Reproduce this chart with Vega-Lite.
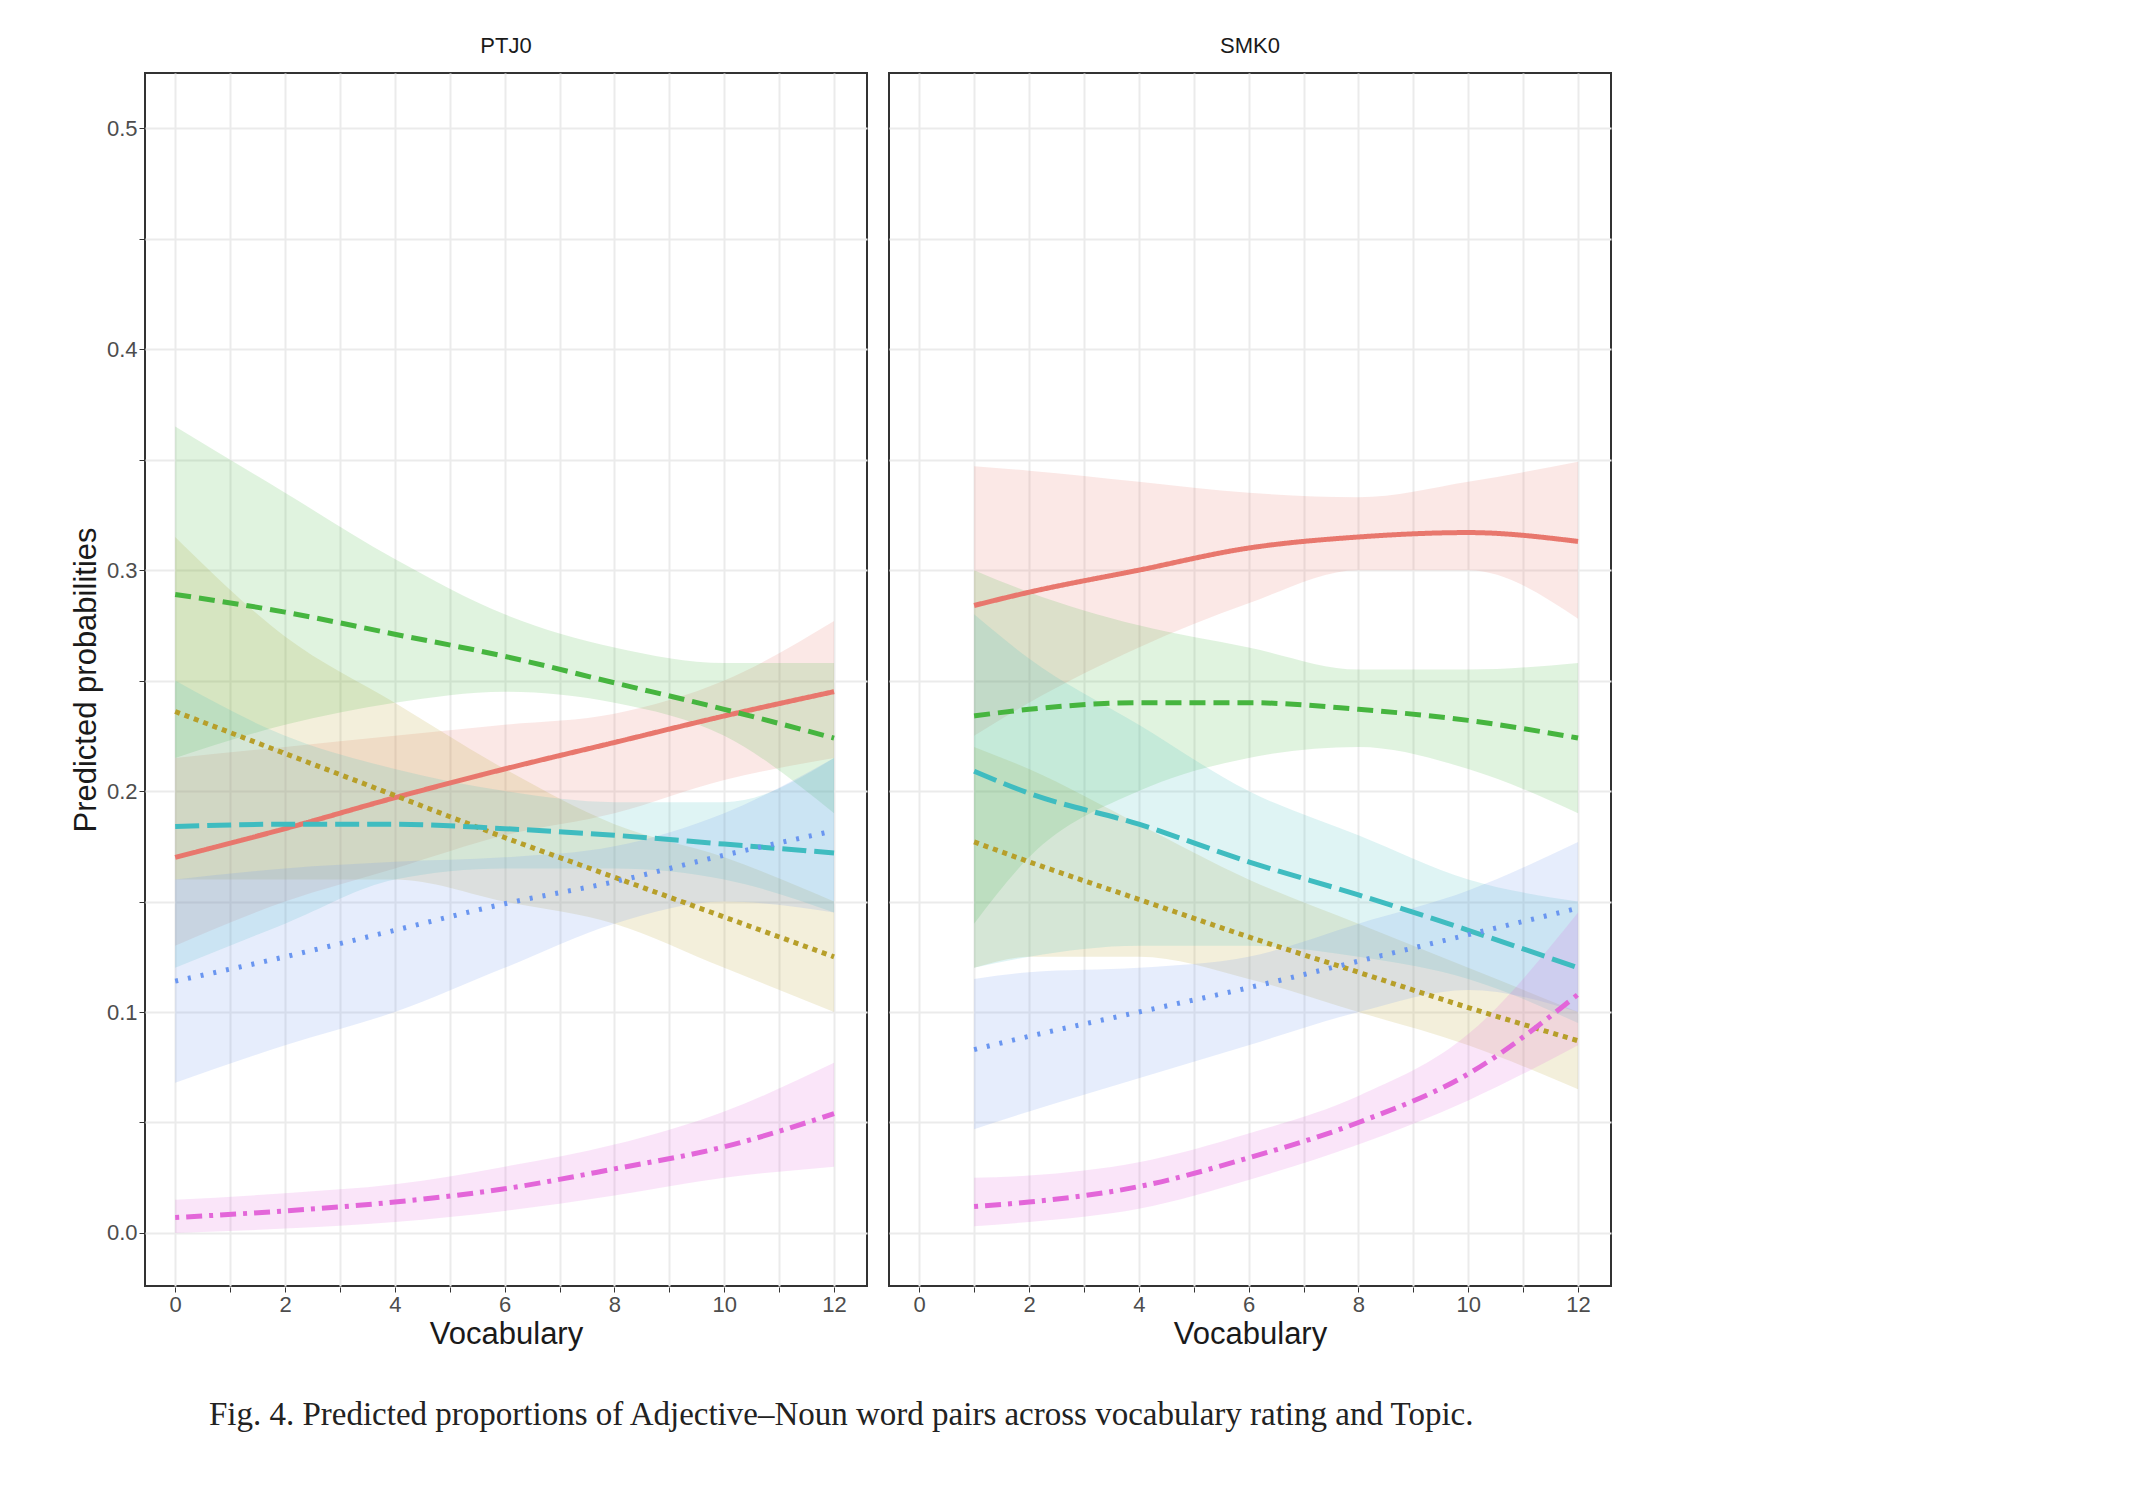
{
"$schema":"https://vega.github.io/schema/vega-lite/v6.json",
"background":"white",
"padding":{"left":70,"top":35,"right":20,"bottom":20},
"title":{"text":"Fig. 4.  Predicted proportions of Adjective–Noun word pairs across vocabulary rating and Topic.","orient":"bottom","font":"Liberation Serif","fontSize":33,"fontWeight":"normal","color":"#222","offset":50,"anchor":"middle"},
"data":{"values":[
{"t":"PTJ0","b":"Below Threshold (Freq < 9)","x":0,"y":0.170,"lo":0.13,"hi":0.215},
{"t":"PTJ0","b":"Below Threshold (Freq < 9)","x":2,"y":0.183,"lo":0.15,"hi":0.22},
{"t":"PTJ0","b":"Below Threshold (Freq < 9)","x":4,"y":0.197,"lo":0.165,"hi":0.225},
{"t":"PTJ0","b":"Below Threshold (Freq < 9)","x":6,"y":0.210,"lo":0.18,"hi":0.23},
{"t":"PTJ0","b":"Below Threshold (Freq < 9)","x":8,"y":0.222,"lo":0.19,"hi":0.235},
{"t":"PTJ0","b":"Below Threshold (Freq < 9)","x":10,"y":0.234,"lo":0.205,"hi":0.25},
{"t":"PTJ0","b":"Below Threshold (Freq < 9)","x":12,"y":0.245,"lo":0.215,"hi":0.277},
{"t":"PTJ0","b":"0-20 pctl. (MI)","x":0,"y":0.236,"lo":0.16,"hi":0.315},
{"t":"PTJ0","b":"0-20 pctl. (MI)","x":2,"y":0.217,"lo":0.16,"hi":0.27},
{"t":"PTJ0","b":"0-20 pctl. (MI)","x":4,"y":0.198,"lo":0.16,"hi":0.24},
{"t":"PTJ0","b":"0-20 pctl. (MI)","x":6,"y":0.179,"lo":0.15,"hi":0.21},
{"t":"PTJ0","b":"0-20 pctl. (MI)","x":8,"y":0.161,"lo":0.14,"hi":0.185},
{"t":"PTJ0","b":"0-20 pctl. (MI)","x":10,"y":0.143,"lo":0.12,"hi":0.17},
{"t":"PTJ0","b":"0-20 pctl. (MI)","x":12,"y":0.125,"lo":0.10,"hi":0.15},
{"t":"PTJ0","b":"20-40 pctl. (MI)","x":0,"y":0.289,"lo":0.215,"hi":0.365},
{"t":"PTJ0","b":"20-40 pctl. (MI)","x":2,"y":0.281,"lo":0.23,"hi":0.335},
{"t":"PTJ0","b":"20-40 pctl. (MI)","x":4,"y":0.271,"lo":0.24,"hi":0.305},
{"t":"PTJ0","b":"20-40 pctl. (MI)","x":6,"y":0.261,"lo":0.245,"hi":0.28},
{"t":"PTJ0","b":"20-40 pctl. (MI)","x":8,"y":0.249,"lo":0.24,"hi":0.265},
{"t":"PTJ0","b":"20-40 pctl. (MI)","x":10,"y":0.237,"lo":0.225,"hi":0.258},
{"t":"PTJ0","b":"20-40 pctl. (MI)","x":12,"y":0.224,"lo":0.19,"hi":0.258},
{"t":"PTJ0","b":"40-60 pctl. (MI)","x":0,"y":0.184,"lo":0.12,"hi":0.25},
{"t":"PTJ0","b":"40-60 pctl. (MI)","x":2,"y":0.185,"lo":0.14,"hi":0.225},
{"t":"PTJ0","b":"40-60 pctl. (MI)","x":4,"y":0.185,"lo":0.16,"hi":0.21},
{"t":"PTJ0","b":"40-60 pctl. (MI)","x":6,"y":0.183,"lo":0.165,"hi":0.20},
{"t":"PTJ0","b":"40-60 pctl. (MI)","x":8,"y":0.180,"lo":0.165,"hi":0.195},
{"t":"PTJ0","b":"40-60 pctl. (MI)","x":10,"y":0.176,"lo":0.16,"hi":0.195},
{"t":"PTJ0","b":"40-60 pctl. (MI)","x":12,"y":0.172,"lo":0.145,"hi":0.215},
{"t":"PTJ0","b":"60-80 pctl. (MI)","x":0,"y":0.114,"lo":0.068,"hi":0.16},
{"t":"PTJ0","b":"60-80 pctl. (MI)","x":2,"y":0.125,"lo":0.085,"hi":0.165},
{"t":"PTJ0","b":"60-80 pctl. (MI)","x":4,"y":0.137,"lo":0.10,"hi":0.168},
{"t":"PTJ0","b":"60-80 pctl. (MI)","x":6,"y":0.149,"lo":0.12,"hi":0.17},
{"t":"PTJ0","b":"60-80 pctl. (MI)","x":8,"y":0.159,"lo":0.14,"hi":0.175},
{"t":"PTJ0","b":"60-80 pctl. (MI)","x":10,"y":0.171,"lo":0.15,"hi":0.19},
{"t":"PTJ0","b":"60-80 pctl. (MI)","x":12,"y":0.182,"lo":0.145,"hi":0.215},
{"t":"PTJ0","b":"80-100 pctl. (MI)","x":0,"y":0.007,"lo":0.000,"hi":0.015},
{"t":"PTJ0","b":"80-100 pctl. (MI)","x":2,"y":0.010,"lo":0.002,"hi":0.018},
{"t":"PTJ0","b":"80-100 pctl. (MI)","x":4,"y":0.014,"lo":0.005,"hi":0.022},
{"t":"PTJ0","b":"80-100 pctl. (MI)","x":6,"y":0.020,"lo":0.010,"hi":0.030},
{"t":"PTJ0","b":"80-100 pctl. (MI)","x":8,"y":0.029,"lo":0.017,"hi":0.040},
{"t":"PTJ0","b":"80-100 pctl. (MI)","x":10,"y":0.039,"lo":0.025,"hi":0.055},
{"t":"PTJ0","b":"80-100 pctl. (MI)","x":12,"y":0.054,"lo":0.030,"hi":0.077},
{"t":"SMK0","b":"Below Threshold (Freq < 9)","x":1,"y":0.284,"lo":0.225,"hi":0.347},
{"t":"SMK0","b":"Below Threshold (Freq < 9)","x":2,"y":0.290,"lo":0.24,"hi":0.345},
{"t":"SMK0","b":"Below Threshold (Freq < 9)","x":4,"y":0.300,"lo":0.265,"hi":0.34},
{"t":"SMK0","b":"Below Threshold (Freq < 9)","x":6,"y":0.310,"lo":0.285,"hi":0.335},
{"t":"SMK0","b":"Below Threshold (Freq < 9)","x":8,"y":0.315,"lo":0.30,"hi":0.333},
{"t":"SMK0","b":"Below Threshold (Freq < 9)","x":10,"y":0.317,"lo":0.30,"hi":0.34},
{"t":"SMK0","b":"Below Threshold (Freq < 9)","x":12,"y":0.313,"lo":0.278,"hi":0.349},
{"t":"SMK0","b":"0-20 pctl. (MI)","x":1,"y":0.177,"lo":0.12,"hi":0.22},
{"t":"SMK0","b":"0-20 pctl. (MI)","x":2,"y":0.168,"lo":0.125,"hi":0.21},
{"t":"SMK0","b":"0-20 pctl. (MI)","x":4,"y":0.151,"lo":0.125,"hi":0.185},
{"t":"SMK0","b":"0-20 pctl. (MI)","x":6,"y":0.134,"lo":0.115,"hi":0.16},
{"t":"SMK0","b":"0-20 pctl. (MI)","x":8,"y":0.118,"lo":0.10,"hi":0.14},
{"t":"SMK0","b":"0-20 pctl. (MI)","x":10,"y":0.102,"lo":0.085,"hi":0.12},
{"t":"SMK0","b":"0-20 pctl. (MI)","x":12,"y":0.087,"lo":0.065,"hi":0.10},
{"t":"SMK0","b":"20-40 pctl. (MI)","x":1,"y":0.234,"lo":0.14,"hi":0.30},
{"t":"SMK0","b":"20-40 pctl. (MI)","x":2,"y":0.237,"lo":0.17,"hi":0.29},
{"t":"SMK0","b":"20-40 pctl. (MI)","x":4,"y":0.240,"lo":0.20,"hi":0.275},
{"t":"SMK0","b":"20-40 pctl. (MI)","x":6,"y":0.240,"lo":0.215,"hi":0.265},
{"t":"SMK0","b":"20-40 pctl. (MI)","x":8,"y":0.237,"lo":0.22,"hi":0.255},
{"t":"SMK0","b":"20-40 pctl. (MI)","x":10,"y":0.232,"lo":0.21,"hi":0.255},
{"t":"SMK0","b":"20-40 pctl. (MI)","x":12,"y":0.224,"lo":0.19,"hi":0.258},
{"t":"SMK0","b":"40-60 pctl. (MI)","x":1,"y":0.209,"lo":0.12,"hi":0.28},
{"t":"SMK0","b":"40-60 pctl. (MI)","x":2,"y":0.199,"lo":0.125,"hi":0.26},
{"t":"SMK0","b":"40-60 pctl. (MI)","x":4,"y":0.185,"lo":0.13,"hi":0.23},
{"t":"SMK0","b":"40-60 pctl. (MI)","x":6,"y":0.168,"lo":0.13,"hi":0.20},
{"t":"SMK0","b":"40-60 pctl. (MI)","x":8,"y":0.153,"lo":0.125,"hi":0.18},
{"t":"SMK0","b":"40-60 pctl. (MI)","x":10,"y":0.137,"lo":0.115,"hi":0.16},
{"t":"SMK0","b":"40-60 pctl. (MI)","x":12,"y":0.120,"lo":0.095,"hi":0.15},
{"t":"SMK0","b":"60-80 pctl. (MI)","x":1,"y":0.083,"lo":0.047,"hi":0.115},
{"t":"SMK0","b":"60-80 pctl. (MI)","x":2,"y":0.089,"lo":0.055,"hi":0.118},
{"t":"SMK0","b":"60-80 pctl. (MI)","x":4,"y":0.100,"lo":0.07,"hi":0.12},
{"t":"SMK0","b":"60-80 pctl. (MI)","x":6,"y":0.111,"lo":0.085,"hi":0.125},
{"t":"SMK0","b":"60-80 pctl. (MI)","x":8,"y":0.123,"lo":0.10,"hi":0.14},
{"t":"SMK0","b":"60-80 pctl. (MI)","x":10,"y":0.135,"lo":0.11,"hi":0.155},
{"t":"SMK0","b":"60-80 pctl. (MI)","x":12,"y":0.147,"lo":0.10,"hi":0.177},
{"t":"SMK0","b":"80-100 pctl. (MI)","x":1,"y":0.012,"lo":0.003,"hi":0.025},
{"t":"SMK0","b":"80-100 pctl. (MI)","x":2,"y":0.014,"lo":0.005,"hi":0.026},
{"t":"SMK0","b":"80-100 pctl. (MI)","x":4,"y":0.021,"lo":0.011,"hi":0.032},
{"t":"SMK0","b":"80-100 pctl. (MI)","x":6,"y":0.034,"lo":0.024,"hi":0.045},
{"t":"SMK0","b":"80-100 pctl. (MI)","x":8,"y":0.050,"lo":0.04,"hi":0.062},
{"t":"SMK0","b":"80-100 pctl. (MI)","x":10,"y":0.072,"lo":0.06,"hi":0.09},
{"t":"SMK0","b":"80-100 pctl. (MI)","x":12,"y":0.108,"lo":0.085,"hi":0.145}
]},
"facet":{"column":{"field":"t","type":"nominal","title":null,"header":{"labelFontSize":22,"labelFont":"Liberation Sans","labelColor":"#1A1A1A","labelPadding":14}}},
"spacing":20,
"spec":{
"width":722,"height":1213,
"encoding":{
"x":{"field":"x","type":"quantitative","title":"Vocabulary","scale":{"domain":[-0.55,12.6],"nice":false,"zero":false},
"axis":{"values":[0,1,2,3,4,5,6,7,8,9,10,11,12],"labelExpr":"datum.value%2==0?datum.label:''","labelFontSize":22,"labelColor":"#4D4D4D","titleFontSize":31,"titleFontWeight":"normal","titleColor":"#1A1A1A","gridColor":"#EBEBEB","gridWidth":2,"tickColor":"#333","domain":false,"labelFont":"Liberation Sans","titleFont":"Liberation Sans"}},
"y":{"type":"quantitative","title":"Predicted probabilities","scale":{"domain":[-0.024,0.525],"nice":false,"zero":false},
"axis":{"values":[0,0.05,0.1,0.15,0.2,0.25,0.3,0.35,0.4,0.45,0.5],"labelExpr":"(round(datum.value*100)%10==0)?format(datum.value,'.1f'):''","labelFontSize":22,"labelColor":"#4D4D4D","titleFontSize":31,"titleFontWeight":"normal","titleColor":"#1A1A1A","gridColor":"#EBEBEB","gridWidth":2,"tickColor":"#333","domain":false,"labelFont":"Liberation Sans","titleFont":"Liberation Sans"}},
"color":{"field":"b","type":"nominal","title":"Collocation bins","sort":["Below Threshold (Freq < 9)","0-20 pctl. (MI)","20-40 pctl. (MI)","40-60 pctl. (MI)","60-80 pctl. (MI)","80-100 pctl. (MI)"],
"scale":{"domain":["Below Threshold (Freq < 9)","0-20 pctl. (MI)","20-40 pctl. (MI)","40-60 pctl. (MI)","60-80 pctl. (MI)","80-100 pctl. (MI)"],"range":["#E8776D","#B79F2A","#46B53F","#3FBCC0","#6A96F0","#E366D9"]}}
},
"layer":[
{"mark":{"type":"area","opacity":0.17,"interpolate":"monotone"},"encoding":{"y":{"field":"lo"},"y2":{"field":"hi"}}},
{"mark":{"type":"line","strokeWidth":5,"interpolate":"monotone"},"encoding":{"y":{"field":"y"},
"strokeDash":{"field":"b","type":"nominal","scale":{"domain":["Below Threshold (Freq < 9)","0-20 pctl. (MI)","20-40 pctl. (MI)","40-60 pctl. (MI)","60-80 pctl. (MI)","80-100 pctl. (MI)"],"range":[[1,0],[5,5],[16,8],[24,8],[3,10],[4,7,16,7]]},"legend":null}}}
]
},
"config":{"view":{"stroke":"#333","strokeWidth":2},
"header":{"labelFont":"Liberation Sans"},
"legend":{"orient":"right","titleFontSize":31,"titleFontWeight":"normal","titleColor":"#1A1A1A","labelFontSize":24,"labelColor":"#1A1A1A","titleFont":"Liberation Sans","labelFont":"Liberation Sans","symbolType":"stroke","symbolStrokeWidth":5,"symbolSize":900,"rowPadding":22,"offset":40,"labelLimit":500,"titlePadding":16}}
}
